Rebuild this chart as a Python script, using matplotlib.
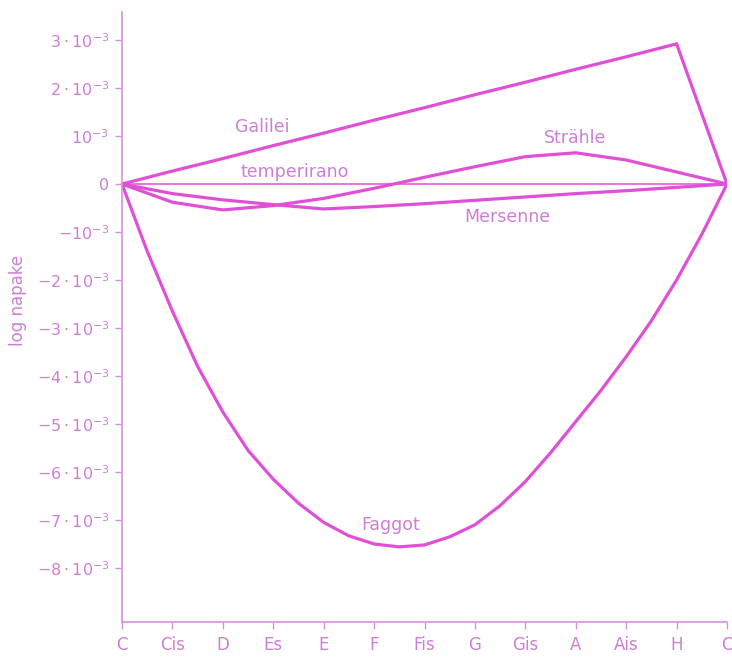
import matplotlib.pyplot as plt

# notes on the x axis (index 0..12)
notes = ["C", "Cis", "D", "Es", "E", "F", "Fis", "G", "Gis", "A", "Ais", "H", "C"]
x_notes = list(range(13))

# errors in units of 1e-3
galilei = [0, 0.27, 0.53, 0.80, 1.06, 1.33, 1.59, 1.86, 2.12, 2.39, 2.65, 2.92, 0]
straehle = [0, -0.38, -0.54, -0.45, -0.30, -0.09, 0.14, 0.36, 0.57, 0.65, 0.50, 0.25, 0]
mersenne = [0, -0.20, -0.33, -0.43, -0.52, -0.47, -0.41, -0.34, -0.27, -0.20, -0.14, -0.07, 0]
temperirano = [0] * 13

# Faggot read at half steps
x_faggot = [0, 0.5, 1, 1.5, 2, 2.5, 3, 3.5, 4, 4.5, 5, 5.5, 6, 6.5, 7, 7.5, 8, 8.5,
            9, 9.5, 10, 10.5, 11, 11.5, 12]
faggot = [0, -1.4, -2.65, -3.8, -4.75, -5.55, -6.15, -6.65, -7.05, -7.33, -7.5, -7.56,
          -7.52, -7.35, -7.1, -6.7, -6.2, -5.6, -4.95, -4.3, -3.6, -2.85, -2.0, -1.05, 0]

y_ticks = [3, 2, 1, 0, -1, -2, -3, -4, -5, -6, -7, -8]
y_ticklabels = [r"$3\cdot10^{-3}$", r"$2\cdot10^{-3}$", r"$10^{-3}$", "0",
                r"$-10^{-3}$", r"$-2\cdot10^{-3}$", r"$-3\cdot10^{-3}$", r"$-4\cdot10^{-3}$",
                r"$-5\cdot10^{-3}$", r"$-6\cdot10^{-3}$", r"$-7\cdot10^{-3}$", r"$-8\cdot10^{-3}$"]

line_col = "#e050d6"
text_col = "#cc7fd4"
axis_col = "#d98fe0"

plt.rcParams.update({
    "font.family": "DejaVu Sans",
    "mathtext.fontset": "dejavusans",
})

W, H = 732, 659
fig = plt.figure(figsize=(W / 100, H / 100), dpi=100)
fig.patch.set_facecolor("white")
# axes box placed in pixel terms: x 122..727, y 12..622
ax = fig.add_axes([122 / W, (H - 622) / H, 605 / W, 610 / H])
ax.set_xlim(0, 12)
ax.set_ylim((184 - 622) / 48, (184 - 12) / 48)

ax.plot(x_notes, temperirano, color=line_col, lw=1.1, solid_capstyle="round")
ax.plot(x_notes, galilei, color=line_col, lw=2.3, solid_joinstyle="miter")
ax.plot(x_notes, straehle, color=line_col, lw=2.3)
ax.plot(x_notes, mersenne, color=line_col, lw=2.3)
ax.plot(x_faggot, faggot, color=line_col, lw=2.3)

# curve names
lab_kw = dict(color=text_col, fontsize=12.5, ha="center", va="center")
ax.text(2.78, (184 - 127) / 48, "Galilei", **lab_kw)
ax.text(3.43, (184 - 172) / 48, "temperirano", **lab_kw)
ax.text(8.99, (184 - 138) / 48, "Strähle", **lab_kw)
ax.text(7.64, (184 - 217) / 48, "Mersenne", **lab_kw)
ax.text(5.32, (184 - 525) / 48, "Faggot", **lab_kw)

ax.set_xticks(x_notes)
ax.set_xticklabels(notes, fontsize=12, color=text_col)
ax.set_yticks(y_ticks)
ax.set_yticklabels(y_ticklabels, fontsize=11.5, color=text_col)
ax.tick_params(axis="both", colors=axis_col, labelcolor=text_col, length=5, width=1)
ax.tick_params(axis="x", pad=5)
ax.tick_params(axis="y", pad=4)

ax.set_ylabel("log napake", color=text_col, fontsize=12)
ax.yaxis.set_label_coords(-95 / 605, (622 - 300) / 610)

for side in ["top", "right"]:
    ax.spines[side].set_visible(False)
for side in ["left", "bottom"]:
    ax.spines[side].set_color(axis_col)
    ax.spines[side].set_linewidth(1.2)

fig.savefig("out.png", dpi=100, facecolor="white")
